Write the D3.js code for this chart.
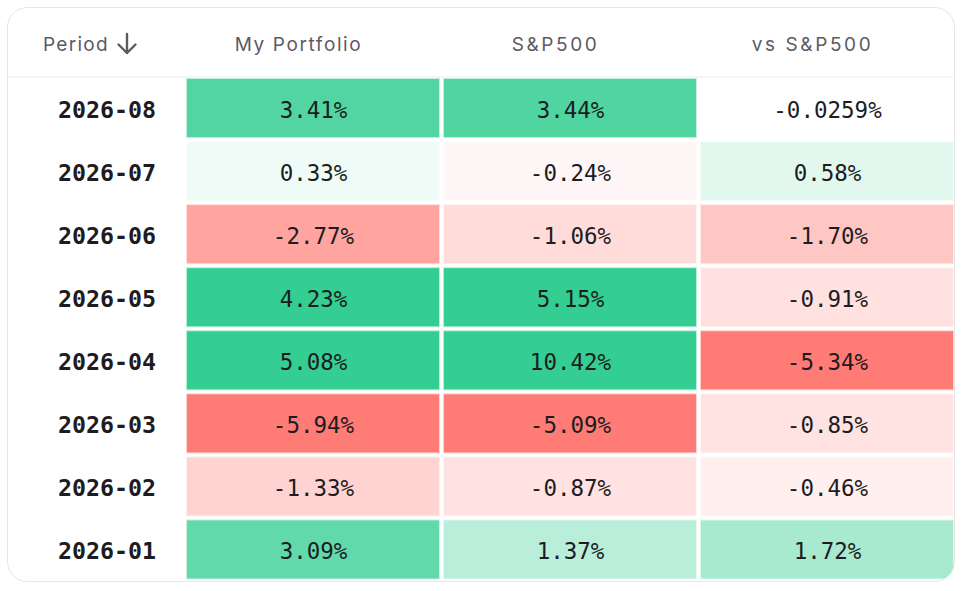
<!DOCTYPE html>
<html>
<head>
<meta charset="utf-8">
<script src="https://cdn.jsdelivr.net/npm/d3@7"></script>
<style>
  html, body { margin: 0; padding: 0; background: #fff; }
  svg { display: block; }
</style>
</head>
<body>
<script>
// data
const periods = ["2026-08", "2026-07", "2026-06", "2026-05", "2026-04", "2026-03", "2026-02", "2026-01"];
const columns = ["My Portfolio", "S&P500", "vs S&P500"];
const portfolio = [3.41, 0.33, -2.77, 4.23, 5.08, -5.94, -1.33, 3.09];
const sp500 = [3.44, -0.24, -1.06, 5.15, 10.42, -5.09, -0.87, 1.37];
const vsSp500 = [-0.0259, 0.58, -1.70, -0.91, -5.34, -0.85, -0.46, 1.72];
const labels = [
  ["3.41%", "0.33%", "-2.77%", "4.23%", "5.08%", "-5.94%", "-1.33%", "3.09%"],
  ["3.44%", "-0.24%", "-1.06%", "5.15%", "10.42%", "-5.09%", "-0.87%", "1.37%"],
  ["-0.0259%", "0.58%", "-1.70%", "-0.91%", "-5.34%", "-0.85%", "-0.46%", "1.72%"]
];
const series = [portfolio, sp500, vsSp500];

const width = 962;
const height = 591;

const card = { x: 7.5, y: 7.5, w: 947, h: 574, r: 20 };
const headerBottom = 77;

const svg = d3.select("body").append("svg")
    .attr("width", width)
    .attr("height", height);

// clip to the card's rounded shape
svg.append("defs").append("clipPath")
    .attr("id", "cardClip")
  .append("rect")
    .attr("x", card.x)
    .attr("y", card.y)
    .attr("width", card.w)
    .attr("height", card.h)
    .attr("rx", card.r);

svg.append("rect")
    .attr("x", card.x)
    .attr("y", card.y)
    .attr("width", card.w)
    .attr("height", card.h)
    .attr("rx", card.r)
    .style("fill", "#fff");

const g = svg.append("g").attr("clip-path", "url(#cardClip)");

// scales
const y = d3.scaleBand()
    .domain(periods)
    .range([headerBottom, card.y + card.h]);

const x = d3.scaleBand()
    .domain(columns)
    .range([185, 956]);

const color = d3.scaleLinear()
    .domain([-4, 0, 4])
    .range(["#ff7b75", "#ffffff", "#34ce92"])
    .clamp(true);

// header
g.append("line")
    .attr("x1", card.x)
    .attr("x2", card.x + card.w)
    .attr("y1", headerBottom)
    .attr("y2", headerBottom)
    .style("stroke", "#ececec")
    .style("stroke-width", 1);

const headerFont = "Inter, 'Noto Sans', sans-serif";

g.append("text")
    .attr("x", 43)
    .attr("y", 44)
    .attr("dominant-baseline", "central")
    .style("font-family", headerFont)
    .style("font-size", "19px")
    .style("letter-spacing", "1.3px")
    .style("fill", "#5b5b66")
    .text("Period");

// sort arrow icon
g.append("path")
    .attr("d", "M127,34 V53 M118.5,44.5 L127,53 L135.5,44.5")
    .style("fill", "none")
    .style("stroke", "#5b5b66")
    .style("stroke-width", 2.4)
    .style("stroke-linecap", "round")
    .style("stroke-linejoin", "round");

g.selectAll("text.colhead")
    .data(columns)
    .enter()
    .append("text")
    .attr("class", "colhead")
    .attr("x", d => x(d) + x.bandwidth() / 2 - 15)
    .attr("y", 44)
    .attr("text-anchor", "middle")
    .attr("dominant-baseline", "central")
    .style("font-family", headerFont)
    .style("font-size", "19px")
    .style("letter-spacing", d => d.includes("500") ? "2.6px" : "1.6px")
    .style("fill", "#5b5b66")
    .text(d => d);

// period labels
const monoFont = "'DejaVu Sans Mono', 'Liberation Mono', monospace";

g.selectAll("text.period")
    .data(periods)
    .enter()
    .append("text")
    .attr("class", "period")
    .attr("x", 107)
    .attr("y", d => y(d) + y.bandwidth() / 2 + 1)
    .attr("text-anchor", "middle")
    .attr("dominant-baseline", "central")
    .style("font-family", monoFont)
    .style("font-weight", "bold")
    .style("font-size", "23.3px")
    .style("fill", "#1c1c22")
    .text(d => d);

// cells
const cells = [];
columns.forEach((c, ci) => {
  periods.forEach((p, ri) => {
    cells.push({ col: c, period: p, value: series[ci][ri], label: labels[ci][ri] });
  });
});

const cell = g.selectAll("g.cell")
    .data(cells)
    .enter()
    .append("g")
    .attr("class", "cell");

// faint outline
cell.append("rect")
    .attr("x", d => x(d.col) + 1)
    .attr("y", d => y(d.period) + 1)
    .attr("width", x.bandwidth() - 3)
    .attr("height", y.bandwidth() - 3)
    .style("fill", d => color(d.value))
    .style("opacity", 0.35);

cell.append("rect")
    .attr("x", d => x(d.col) + 2)
    .attr("y", d => y(d.period) + 2)
    .attr("width", x.bandwidth() - 5)
    .attr("height", y.bandwidth() - 5)
    .style("fill", d => color(d.value));

cell.append("text")
    .attr("x", d => x(d.col) + x.bandwidth() / 2)
    .attr("y", d => y(d.period) + y.bandwidth() / 2 + 1)
    .attr("text-anchor", "middle")
    .attr("dominant-baseline", "central")
    .style("font-family", monoFont)
    .style("font-size", "22.5px")
    .style("fill", "#1c1c22")
    .text(d => d.label);

// card border on top
svg.append("rect")
    .attr("x", card.x)
    .attr("y", card.y)
    .attr("width", card.w)
    .attr("height", card.h)
    .attr("rx", card.r)
    .style("fill", "none")
    .style("stroke", "#e6e6e6")
    .style("stroke-width", 1);
</script>
</body>
</html>
